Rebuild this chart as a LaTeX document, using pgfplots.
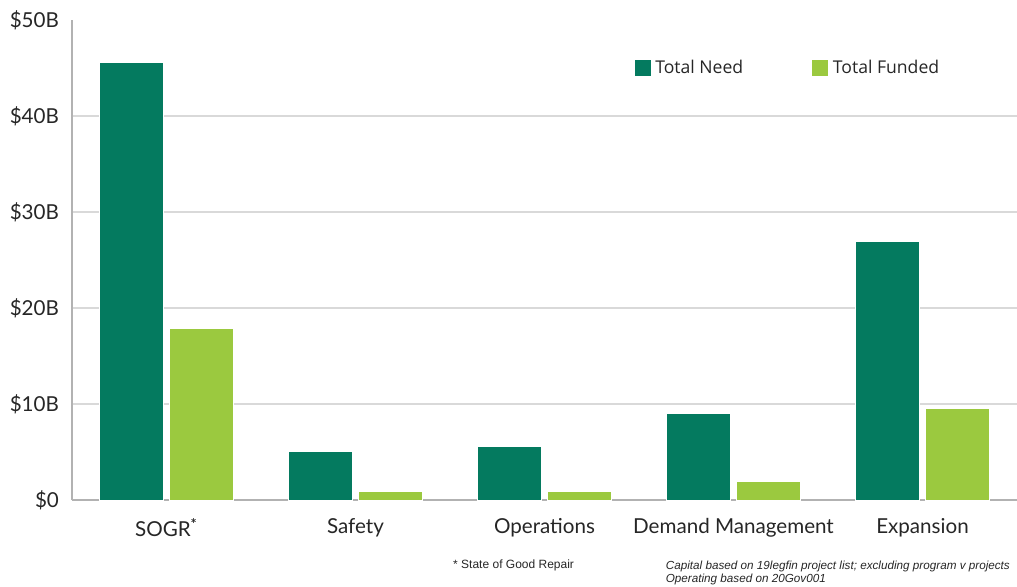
\documentclass[border=0pt]{standalone}
\usepackage{fontspec}
\setmainfont{Lato}
\newfontfamily\notefont{Liberation Sans}
\newfontfamily\legfont{Open Sans}
\usepackage{pgfplots}
\pgfplotsset{compat=1.18}
\definecolor{need}{HTML}{047A5F}
\definecolor{funded}{HTML}{9BC93F}
\begin{document}
\begin{tikzpicture}
\useasboundingbox (-36pt,-43pt) rectangle (472.5pt,250pt);
\begin{axis}[
  width=472.5pt, height=240pt, scale only axis,
  at={(0,0)}, anchor=south west,
  ybar, bar width=32pt,
  xmin=-0.5, xmax=4.5, ymin=0, ymax=50,
  axis lines*=left,
  axis line style={draw=black!30, line width=0.8pt},
  xtick={0,1,2,3,4},
  xticklabels={SOGR\textsuperscript{\bfseries *},Safety,Operations,Demand Management,Expansion},
  ytick={0,10,20,30,40},
  yticklabels={\$0,\$10B,\$20B,\$30B,\$40B},
  extra y ticks={50}, extra y tick labels={\$50B},
  extra y tick style={grid=none},
  ymajorgrids, grid style={draw=black!15, line width=0.6pt},
  major tick length=0pt,
  tick label style={font=\fontsize{10.3pt}{12pt}\selectfont, text=black!85},
  yticklabel style={xshift=-3pt},
  xticklabel style={yshift=-5.5pt},
  legend columns=2,
  legend style={draw=none, fill=none, at={(0.594,0.9)}, anchor=west, inner sep=0pt,
    font=\legfont\fontsize{8.8pt}{10pt}\selectfont, text=black!85,
    /tikz/every even column/.append style={column sep=32pt}},
  legend image code/.code={\draw[#1, draw=white, line width=0.3pt] (0pt,-4.25pt) rectangle (8.5pt,4.25pt);},
  clip=false,
]
\addplot[fill=need, draw=white, line width=0.4pt, bar shift=-17.5pt] coordinates {(0,45.6) (1,5.1) (2,5.6) (3,9.0) (4,26.9)};
\addplot[fill=funded, draw=white, line width=0.4pt, bar shift=17.5pt] coordinates {(0,17.9) (1,0.9) (2,0.9) (3,1.9) (4,9.5)};
\legend{Total Need, Total Funded}
\node[anchor=west, inner sep=0pt, font=\notefont\fontsize{6pt}{7pt}\selectfont, text=black!85] at (rel axis cs:0.403,-0.137) {* State of Good Repair};
\node[anchor=north west, inner sep=0pt, align=left, font=\notefont\itshape\fontsize{5.85pt}{6.6pt}\selectfont, text=black!85] at (rel axis cs:0.628,-0.126) {Capital based on 19legfin project list; excluding program v projects\\Operating based on 20Gov001};
\end{axis}
\end{tikzpicture}
\end{document}
